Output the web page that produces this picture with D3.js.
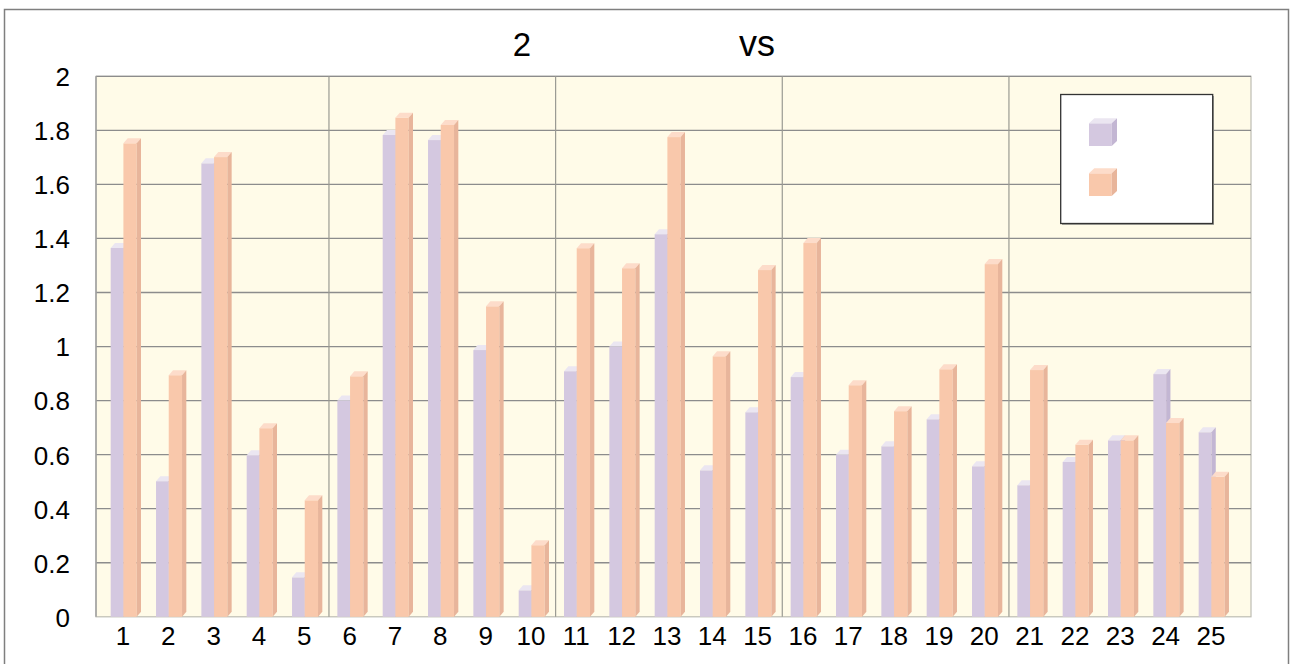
<!DOCTYPE html>
<html>
<head>
<meta charset="utf-8">
<script src="https://cdn.jsdelivr.net/npm/d3@7"></script>
<style>
  body { margin: 0; background: #fff; }
  text { font-family: "Liberation Sans", Arial, sans-serif; fill: #000; }
</style>
</head>
<body>
<script>
const categories = d3.range(1, 26).map(String);
const seriesA = [1.365, 0.502, 1.678, 0.598, 0.146, 0.800, 1.783, 1.764, 0.987, 0.098,
                 0.909, 1.000, 1.416, 0.542, 0.757, 0.887, 0.600, 0.631, 0.731, 0.557,
                 0.487, 0.573, 0.653, 0.898, 0.683];
const seriesB = [1.752, 0.894, 1.701, 0.698, 0.431, 0.890, 1.847, 1.820, 1.149, 0.265,
                 1.364, 1.290, 1.775, 0.964, 1.283, 1.383, 0.857, 0.761, 0.916, 1.305,
                 0.913, 0.637, 0.653, 0.717, 0.518];
const yTickValues = [0, 0.2, 0.4, 0.6, 0.8, 1, 1.2, 1.4, 1.6, 1.8, 2];
const yTickLabels = ["0", "0.2", "0.4", "0.6", "0.8", "1", "1.2", "1.4", "1.6", "1.8", "2"];
const titleParts = ["2", "vs"];

const width = 1292, height = 664;
const colors = {
  a: { front: "#d4c8e0", top: "#ebe6f1", side: "#c3b6d3" },
  b: { front: "#f9c8ab", top: "#fddcca", side: "#e8b59b" }
};
const dx = 4.3, dy = 5;

const svg = d3.select('body').append('svg')
  .attr('width', width)
  .attr('height', height);

// outer frame
svg.append('rect')
  .attr('x', 4.5).attr('y', 9.5)
  .attr('width', 1284).attr('height', 700)
  .attr('fill', '#fff').attr('stroke', '#7f7f7f').attr('stroke-width', 1.5);

const plot = { left: 96, right: 1251, top: 76.3, bottom: 616.8 };

const x = d3.scaleBand().domain(categories).range([102.3, 1235.6]);
const y = d3.scaleLinear().domain([0, 2]).range([plot.bottom, plot.top]);

// plot background
svg.append('rect')
  .attr('x', plot.left).attr('y', plot.top)
  .attr('width', plot.right - plot.left).attr('height', plot.bottom - plot.top)
  .attr('fill', '#fffbe8').attr('stroke', '#bdbdb3').attr('stroke-width', 1.2);

// horizontal grid
svg.append('g')
  .selectAll('line')
  .data(yTickValues.filter(d => d > 0))
  .enter().append('line')
    .attr('x1', plot.left).attr('x2', plot.right)
    .attr('y1', d => y(d)).attr('y2', d => y(d))
    .attr('stroke', '#8c8c8c').attr('stroke-width', 1.3);

// vertical grid every 5 categories
svg.append('g')
  .selectAll('line')
  .data(categories.filter((d, i) => i > 0 && i % 5 === 0))
  .enter().append('line')
    .attr('x1', d => x(d)).attr('x2', d => x(d))
    .attr('y1', plot.top).attr('y2', plot.bottom)
    .attr('stroke', '#9a9a92').attr('stroke-width', 1.2);

// y axis line
svg.append('line')
  .attr('x1', plot.left).attr('x2', plot.left)
  .attr('y1', plot.top).attr('y2', plot.bottom)
  .attr('stroke', '#a0a0a0').attr('stroke-width', 1.5);

// 3D column helper
function column(g, x0, w, v, c) {
  const top = y(v), base = plot.bottom;
  g.append('rect').attr('x', x0).attr('y', top).attr('width', w).attr('height', base - top)
    .attr('fill', c.front);
  g.append('polygon')
    .attr('points', [[x0, top], [x0 + w, top], [x0 + w + dx, top - dy], [x0 + dx, top - dy]].join(' '))
    .attr('fill', c.top);
  g.append('polygon')
    .attr('points', [[x0 + w, top], [x0 + w + dx, top - dy], [x0 + w + dx, base - dy], [x0 + w, base]].join(' '))
    .attr('fill', c.side);
}

const bars = svg.append('g').attr('class', 'bars');
categories.forEach((cat, i) => {
  const g = bars.append('g');
  const b0 = x(cat);
  column(g, b0 + 8.4, 12.8, seriesA[i], colors.a);
  column(g, b0 + 21.1, 13.3, seriesB[i], colors.b);
});

// y labels
svg.append('g')
  .selectAll('text')
  .data(yTickValues)
  .enter().append('text')
    .attr('x', 70)
    .attr('y', d => y(d) + 3)
    .attr('text-anchor', 'end')
    .attr('dominant-baseline', 'middle')
    .attr('font-size', 26)
    .text((d, i) => yTickLabels[i]);

// x labels
svg.append('g')
  .selectAll('text')
  .data(categories)
  .enter().append('text')
    .attr('x', d => x(d) + x.bandwidth() / 2 - 2)
    .attr('y', 645)
    .attr('text-anchor', 'middle')
    .attr('font-size', 26)
    .text(d => d);

// title
svg.append('text').attr('x', 522).attr('y', 56).attr('text-anchor', 'middle')
  .attr('font-size', 33).text(titleParts[0]);
svg.append('text').attr('x', 757).attr('y', 56).attr('text-anchor', 'middle')
  .attr('font-size', 36).text(titleParts[1]);

// legend
const legend = svg.append('g');
legend.append('rect').attr('x', 1062).attr('y', 96).attr('width', 152).attr('height', 129)
  .attr('fill', '#a8a8a0');
legend.append('rect').attr('x', 1060.7).attr('y', 94.5).attr('width', 152).attr('height', 129)
  .attr('fill', '#fff').attr('stroke', '#333').attr('stroke-width', 1.3);
[colors.a, colors.b].forEach((c, i) => {
  const lx = 1089, ly = 123.3 + i * 50, w = 22.7, h = 22.7;
  legend.append('rect').attr('x', lx).attr('y', ly).attr('width', w).attr('height', h).attr('fill', c.front);
  legend.append('polygon')
    .attr('points', [[lx, ly], [lx + w, ly], [lx + w + 5.3, ly - 5], [lx + 5.3, ly - 5]].join(' '))
    .attr('fill', c.top);
  legend.append('polygon')
    .attr('points', [[lx + w, ly], [lx + w + 5.3, ly - 5], [lx + w + 5.3, ly + h - 5], [lx + w, ly + h]].join(' '))
    .attr('fill', c.side);
});
</script>
</body>
</html>
